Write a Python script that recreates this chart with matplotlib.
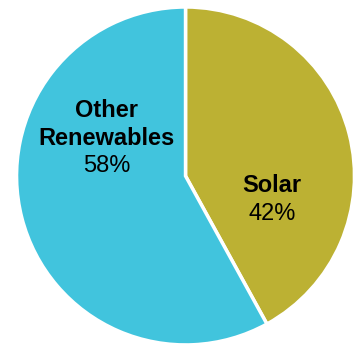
import matplotlib.pyplot as plt

labels = ["Solar", "Other\nRenewables"]
shares = [42, 58]
colors = ["#BCB133", "#41C4DD"]

# baseline of each label's first line, in data units (pie radius = 1)
label_pos = [(0.512, -0.095), (-0.467, 0.349)]
line_step = 0.164

plt.rcParams['font.family'] = ['Liberation Sans', 'DejaVu Sans']

fig = plt.figure(figsize=(3.55, 3.45), dpi=100)
ax = fig.add_axes([0, 0, 1, 1])

wedges, _ = ax.pie(shares, colors=colors, startangle=90, counterclock=False,
                   wedgeprops=dict(edgecolor="white", linewidth=2.5))

for lab, val, (x, y) in zip(labels, shares, label_pos):
    lines = lab.split("\n")
    for i, line in enumerate(lines):
        ax.text(x, y - i * line_step, line, ha="center", va="baseline",
                fontsize=17, fontweight="bold")
    ax.text(x, y - len(lines) * line_step, f"{val}%", ha="center",
            va="baseline", fontsize=17)

ax.set_xlim(-1.098, 1.003)
ax.set_ylim(-1.0, 1.041)
ax.set_aspect("equal")
ax.axis("off")

fig.savefig("out.png", dpi=100)
